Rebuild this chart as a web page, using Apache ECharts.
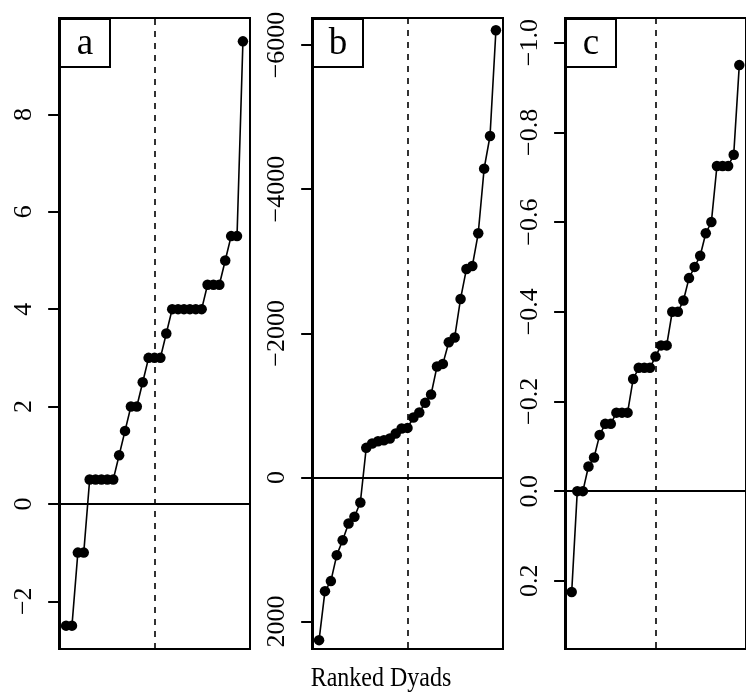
<!DOCTYPE html>
<html>
<head>
<meta charset="utf-8">
<script src="https://cdn.jsdelivr.net/npm/echarts@6/dist/echarts.min.js"></script>
<style>html,body{margin:0;padding:0;background:#fff;}#c{width:746px;height:695px;}</style>
</head>
<body>
<div id="c"></div>
<script>
// Panel a values (ranked)
const valuesA = [-2.5, -2.5, -1, -1, 0.5, 0.5, 0.5, 0.5, 0.5, 1, 1.5, 2, 2, 2.5, 3, 3, 3, 3.5,
  4, 4, 4, 4, 4, 4, 4.5, 4.5, 4.5, 5, 5.5, 5.5, 9.5];
// Panel b values (ranked)
const valuesB = [2257, 1577, 1438, 1078, 870, 638, 546, 347, -411, -472, -503, -517, -541, -610,
  -680, -688, -832, -901, -1035, -1151, -1539, -1576, -1877, -1942, -2477, -2893, -2935, -3388,
  -4285, -4738, -6204];
// Panel c values (ranked)
const valuesC = [0.225, 0, 0, -0.055, -0.075, -0.125, -0.15, -0.15, -0.175, -0.175, -0.175,
  -0.25, -0.275, -0.275, -0.275, -0.30, -0.325, -0.325, -0.40, -0.40, -0.425, -0.475, -0.50,
  -0.525, -0.575, -0.60, -0.725, -0.725, -0.725, -0.75, -0.95];
const panelLetters = ['a', 'b', 'c'];
const ticksA = [-2, 0, 2, 4, 6, 8];
const ticksB = [-6000, -4000, -2000, 0, 2000];
const ticksC = [-1.0, -0.8, -0.6, -0.4, -0.2, 0.0, 0.2];
const xLabel = 'Ranked Dyads';

const FONT = '"Liberation Serif", "DejaVu Serif", serif';
const chart = echarts.init(document.getElementById('c'), null, {renderer: 'canvas'});

function rRange(vals) {
  const lo = Math.min(...vals), hi = Math.max(...vals), d = hi - lo;
  return [lo - 0.04 * d, hi + 0.04 * d];
}
const n = valuesA.length;
const xr = rRange([1, n]);
const mid = (n + 1) / 2;

const panels = [
  {vals: valuesA, ticks: ticksA, inverse: false, range: rRange(valuesA), fmt: v => String(v).replace('-', '\u2212'), left: 59},
  {vals: valuesB, ticks: ticksB, inverse: true, range: [-6375, 2380], fmt: v => String(v).replace('-', '\u2212'), left: 312},
  {vals: valuesC, ticks: ticksC, inverse: true, range: [-1.055, 0.352], fmt: v => v.toFixed(1).replace('-', '\u2212'), left: 565}
];

const grid = [], xAxis = [], yAxis = [], series = [], graphic = [];
panels.forEach((p, i) => {
  grid.push({left: p.left, top: 18, width: 191, height: 631, show: true, borderColor: '#000', borderWidth: 2, backgroundColor: 'transparent'});
  xAxis.push({gridIndex: i, type: 'value', min: xr[0], max: xr[1], show: false});
  yAxis.push({
    gridIndex: i, type: 'value', min: p.range[0], max: p.range[1], inverse: p.inverse,
    splitLine: {show: false},
    axisLine: {show: true, lineStyle: {color: '#000', width: 2}},
    axisTick: {show: true, length: 12, lineStyle: {color: '#000', width: 2}, customValues: p.ticks},
    axisLabel: {show: true, rotate: 90, margin: 22, color: '#000', fontFamily: FONT, fontSize: 26,
      customValues: p.ticks, formatter: p.fmt}
  });
  series.push({
    type: 'line', xAxisIndex: i, yAxisIndex: i,
    data: p.vals.map((v, k) => [k + 1, v]),
    symbol: 'circle', symbolSize: 10.5, showSymbol: true,
    itemStyle: {color: '#000'}, lineStyle: {color: '#000', width: 1.6},
    clip: false, z: 5,
    markLine: {
      silent: true, symbol: 'none', label: {show: false}, animation: false,
      data: [
        {yAxis: 0, lineStyle: {color: '#000', width: 2, type: 'solid'}},
        {xAxis: mid, lineStyle: {color: '#000', width: 1.6, type: [6, 6]}}
      ]
    }
  });
  graphic.push({
    type: 'group', left: p.left, top: 18, z: 100,
    children: [
      {type: 'rect', shape: {x: 0, y: 0, width: 50, height: 48}, style: {fill: '#fff', stroke: '#000', lineWidth: 2}},
      {type: 'text', x: 25, y: 25, style: {text: panelLetters[i], font: '37px ' + FONT, fill: '#000', align: 'center', verticalAlign: 'middle'}}
    ]
  });
});
graphic.push({type: 'text', x: 381, y: 679, scaleY: 1.15, style: {text: xLabel, font: '24px ' + FONT, fill: '#000', align: 'center', verticalAlign: 'middle'}});

chart.setOption({animation: false, backgroundColor: '#fff', grid, xAxis, yAxis, series, graphic});
</script>
</body>
</html>
